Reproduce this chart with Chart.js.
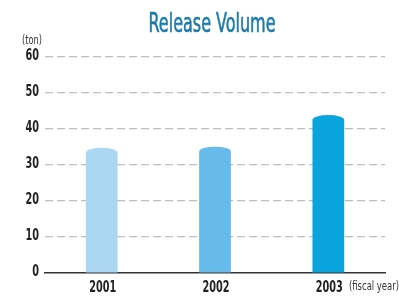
<!DOCTYPE html>
<html>
<head>
<meta charset="utf-8">
<script src="https://cdn.jsdelivr.net/npm/chart.js@4/dist/chart.umd.min.js"></script>
<style>
 html,body{margin:0;padding:0;background:#fff;}
 #wrap{width:399px;height:296px;position:relative;}
</style>
</head>
<body>
<div id="wrap"><canvas id="chart"></canvas></div>
<script>
const years = ["2001","2002","2003"];
const releaseVolume = [34.8, 35.1, 43.9];
const barColors = ["#abd7f2","#66bbea","#09a3de"];
const yTicks = [0,10,20,30,40,50,60];

const FONT = "'DejaVu Sans Condensed','Liberation Sans',sans-serif";

// draw text squeezed horizontally (the original uses a very narrow face)
function narrowText(ctx,text,x,y,font,sx,align,color,stroke){
 ctx.save();
 ctx.font=font;
 ctx.fillStyle=color;
 ctx.textBaseline="middle";
 ctx.textAlign=align;
 ctx.translate(x,y);
 ctx.scale(sx,1);
 ctx.fillText(text,0,0);
 if(stroke){
  ctx.strokeStyle=color;
  ctx.lineWidth=stroke;
  ctx.strokeText(text,0,0);
 }
 ctx.restore();
}

// bars with an elliptical cap, drawn from the library's own element positions
const capBars = {
 id:"capBars",
 beforeDatasetDraw(chart,args){
  const ctx=chart.ctx;
  args.meta.data.forEach((bar,i)=>{
   const p=bar.getProps(["x","y","base","width"],true);
   const w=p.width/2, ry=5;
   ctx.save();
   ctx.fillStyle=barColors[i];
   ctx.beginPath();
   ctx.moveTo(p.x-w,p.base);
   ctx.lineTo(p.x-w,p.y+ry);
   ctx.ellipse(p.x,p.y+ry,w,ry,0,Math.PI,0);
   ctx.lineTo(p.x+w,p.base);
   ctx.closePath();
   ctx.fill();
   ctx.restore();
  });
  return false;
 }
};

// title, tick labels and unit labels
const labels = {
 id:"labels",
 afterDraw(chart){
  const ctx=chart.ctx;
  const tickFont="bold 15px "+FONT;
  ctx.font=tickFont;
  const sx=13.5/ctx.measureText("60").width;

  const ys=chart.scales.y;
  yTicks.forEach(v=>{
   narrowText(ctx,String(v),39,ys.getPixelForValue(v)-0.5,tickFont,sx,"right","#222");
  });
  const xs=chart.scales.x;
  years.forEach((yr,i)=>{
   narrowText(ctx,yr,xs.getPixelForValue(i)+1,288,tickFont,sx,"center","#222");
  });

  const titleFont="27px "+FONT;
  ctx.font=titleFont;
  const tsx=127/ctx.measureText("Release Volume").width;
  narrowText(ctx,"Release Volume",212,25,titleFont,tsx,"center","#1b7ba8",0.6);

  ctx.font="12px "+FONT;
  narrowText(ctx,"(ton)",22,41,"12px "+FONT,20/ctx.measureText("(ton)").width,"left","#333");
  narrowText(ctx,"(fiscal year)",349,287,"12px "+FONT,50/ctx.measureText("(fiscal year)").width,"left","#333");
 }
};

new Chart(document.getElementById("chart"),{
 type:"bar",
 data:{
  labels:years,
  datasets:[{data:releaseVolume,backgroundColor:barColors,categoryPercentage:1,barPercentage:0.28}]
 },
 options:{
  responsive:true,
  maintainAspectRatio:false,
  animation:false,
  layout:{padding:{top:57,right:14,left:0,bottom:0}},
  plugins:{legend:{display:false},tooltip:{enabled:false}},
  scales:{
   x:{
    grid:{display:false,drawTicks:false},
    border:{display:true,color:"#333",width:1.5},
    ticks:{color:"rgba(0,0,0,0)",font:{family:FONT,size:14,weight:"bold"},padding:6},
    afterFit(s){s.height=23;}
   },
   y:{
    min:0,max:60,
    afterBuildTicks(s){s.ticks=yTicks.map(v=>({value:v}));},
    grid:{color:c=>c.tick.value===0?"rgba(0,0,0,0)":"#bdbdbd",lineWidth:1.2,drawTicks:false},
    border:{display:false,dash:[8,4]},
    ticks:{color:"rgba(0,0,0,0)",font:{family:FONT,size:14,weight:"bold"},padding:6},
    afterFit(s){s.width=45;}
   }
  }
 },
 plugins:[capBars,labels]
});
</script>
</body>
</html>
